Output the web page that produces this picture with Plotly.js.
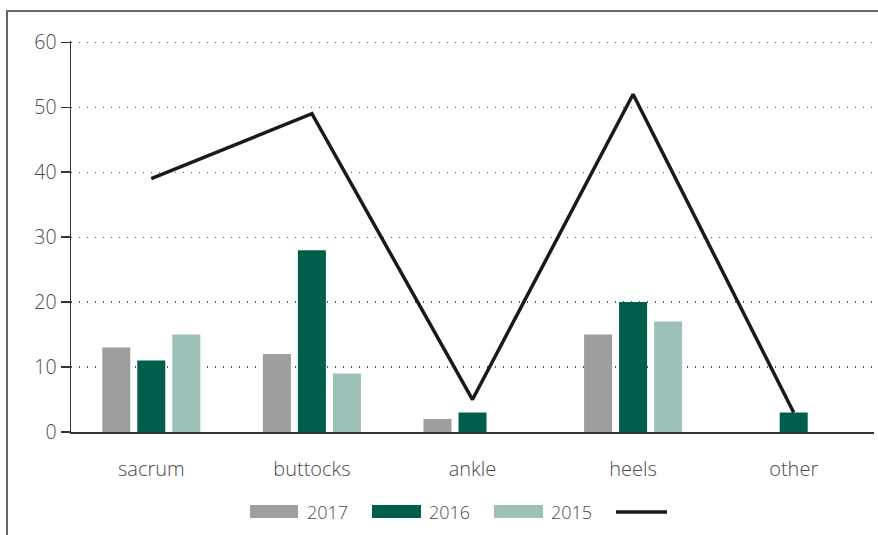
<!DOCTYPE html>
<html>
<head>
<meta charset="utf-8">
<script src="https://cdn.plot.ly/plotly-3.0.1.min.js"></script>
<style>html,body{margin:0;padding:0;background:#fff;}#chart{width:878px;height:535px;}</style>
</head>
<body>
<div id="chart"></div>
<script>
// ---- data ----
const categories = ["sacrum", "buttocks", "ankle", "heels", "other"];
const seriesNames = ["2017", "2016", "2015"];
const values2017 = [13, 12, 2, 15, 0];
const values2016 = [11, 28, 3, 20, 3];
const values2015 = [15, 9, 0, 17, 0];
const lineValues = [39, 49, 5, 52, 3];
const yTicks = [0, 10, 20, 30, 40, 50, 60];

// ---- style ----
const colors = ["#9d9ea0", "#005e4d", "#9dc0b8"];
const lineColor = "#1a1a1a";
const textColor = "#4a4a4a";
const FONT = "Open Sans, sans-serif";
const W = 878, H = 535;
const M = {l: 71, r: 4, t: 41, b: 103};
const PW = W - M.l - M.r, PH = H - M.t - M.b;
const px = x => (x - M.l) / PW;
const py = y => (H - M.b - y) / PH;

const seriesValues = [values2017, values2016, values2015];
const traces = seriesValues.map((v, i) => ({
  type: "bar", x: categories, y: v, name: seriesNames[i],
  marker: {color: colors[i]}, showlegend: false, hoverinfo: "x+y"
}));
traces.push({
  type: "scatter", mode: "lines", x: categories, y: lineValues,
  line: {color: lineColor, width: 3.5}, showlegend: false
});

// custom legend (wide swatches)
const legendItems = [
  {x0: 250, x1: 298, tx: 305},
  {x0: 372, x1: 421, tx: 427},
  {x0: 494, x1: 543, tx: 549}
];
const shapes = [];
const annotations = [];
legendItems.forEach((it, i) => {
  shapes.push({type: "rect", xref: "paper", yref: "paper",
    x0: px(it.x0), x1: px(it.x1), y0: py(505), y1: py(518),
    fillcolor: colors[i], line: {width: 0}});
  annotations.push({xref: "paper", yref: "paper", x: px(it.tx), y: py(512),
    xanchor: "left", yanchor: "middle", text: seriesNames[i], showarrow: false,
    font: {family: FONT, size: 18, color: textColor, weight: 300}});
});
shapes.push({type: "line", xref: "paper", yref: "paper",
  x0: px(616), x1: px(667), y0: py(512), y1: py(512),
  line: {color: lineColor, width: 3.5}});
// outer frame (left and top edges)
shapes.push({type: "line", xref: "paper", yref: "paper",
  x0: px(7), x1: px(7), y0: py(11), y1: py(540), line: {color: "#666", width: 2}});
shapes.push({type: "line", xref: "paper", yref: "paper",
  x0: px(6), x1: px(880), y0: py(11), y1: py(11), line: {color: "#666", width: 2}});

const layout = {
  width: W, height: H,
  margin: M,
  paper_bgcolor: "#fff", plot_bgcolor: "#fff",
  font: {family: FONT, color: textColor, size: 19, weight: 300},
  showlegend: false,
  barmode: "group", bargap: 0.346, bargroupgap: 0.2,
  xaxis: {
    type: "category", showgrid: false, zeroline: false,
    showline: true, linecolor: "#333", linewidth: 1.5,
    ticks: "", ticklabelstandoff: 18,
    tickfont: {family: FONT, size: 20, color: textColor, weight: 300}
  },
  yaxis: {
    range: [0, 60.2], tickvals: yTicks, ticktext: yTicks.map(String),
    showgrid: true, gridcolor: "#555", gridwidth: 1.3, griddash: "1px,7px",
    zeroline: false, showline: true, linecolor: "#333", linewidth: 1.5,
    ticks: "outside", ticklen: 9, tickcolor: "#333", tickwidth: 1.5,
    tickfont: {family: FONT, size: 19.5, color: textColor, weight: 300}, fixedrange: true
  },
  shapes: shapes,
  annotations: annotations
};

Plotly.newPlot("chart", traces, layout, {staticPlot: true, displayModeBar: false});
</script>
</body>
</html>
